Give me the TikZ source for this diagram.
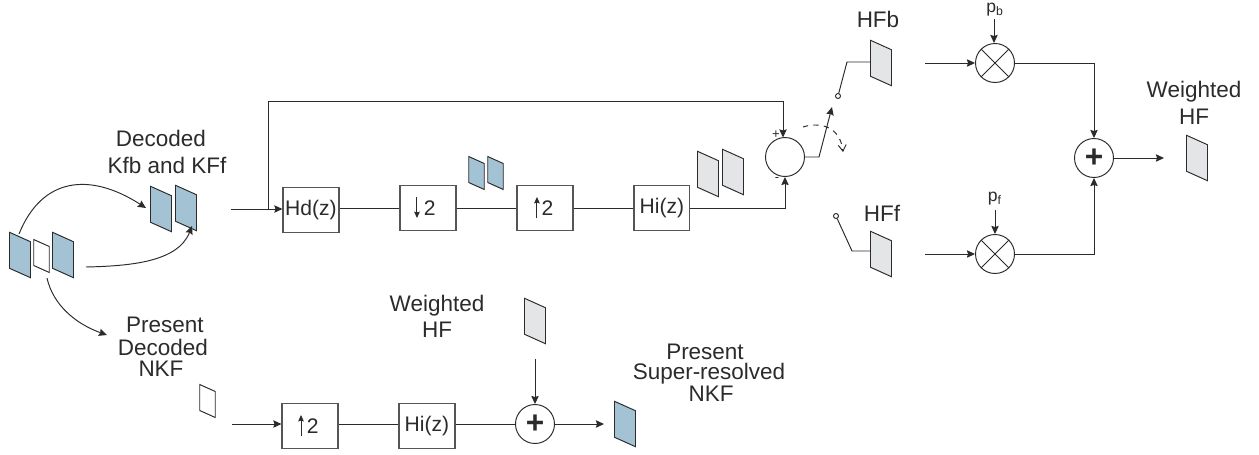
\documentclass[tikz,border=0pt]{standalone}
\usepackage{xcolor}
\usepackage{fontspec}
\setmainfont{Liberation Sans}
\setsansfont{Liberation Sans}
\definecolor{frameBlue}{HTML}{A3C3D5}
\definecolor{frameGray}{HTML}{E4E5E7}
\definecolor{lineDark}{HTML}{2B2B2B}
\definecolor{boxGray}{HTML}{555555}
\usetikzlibrary{
    arrows.meta,
    positioning
}
\tikzset{
    % Base style for all labels
    label text/.style={
        font=\sffamily\fontsize{12.8}{12.8}\selectfont,
        text=lineDark,
        inner sep=0pt,
    },
    % Filter and sampling blocks
    block/.style={
        rectangle,
        draw=boxGray,
        line width=0.65pt,
        fill=white,
        minimum width=1.12cm,
        minimum height=0.9cm,
        inner sep=0pt,
        font=\sffamily\fontsize{12}{12}\selectfont,
        text=lineDark,
    },
    % Summing and product junctions
    junction/.style={
        circle,
        draw=lineDark,
        line width=0.55pt,
        fill=white,
        minimum size=0.78cm,
        inner sep=0pt,
        font=\sffamily\bfseries\fontsize{18}{18}\selectfont,
        text=lineDark,
    },
    % Slanted frames
    frame/.style={
        rectangle,
        draw=lineDark,
        line width=0.55pt,
        minimum width=0.42cm,
        minimum height=0.72cm,
        inner sep=0pt,
        yslant=-0.45,
        transform shape,
    },
    small frame/.style={
        frame,
        minimum width=0.31cm,
        minimum height=0.52cm,
    },
    % Switch contact
    contact/.style={
        circle,
        draw=lineDark,
        line width=0.55pt,
        fill=white,
        minimum size=0.1cm,
        inner sep=0pt,
    },
    % Connectors
    wire/.style={
        line width=0.55pt,
        draw=lineDark,
    },
    arrow/.style={
        wire,
        -{Stealth[length=4.6pt, width=4.2pt, inset=0.6pt]},
    },
    sample arrow/.style={
        wire,
        -{Stealth[length=3.6pt, width=3.2pt, inset=0.4pt]},
    },
    arrow dashed/.style={
        line width=0.55pt,
        draw=lineDark,
        dashed,
        -{Straight Barb[length=3.5pt, width=4.5pt]},
    },
    small sign/.style={
        font=\sffamily\fontsize{7.5}{7.5}\selectfont,
        text=lineDark,
        inner sep=0pt,
    },
    weight text/.style={
        label text,
        font=\sffamily\fontsize{10}{10}\selectfont,
    },
}
\begin{document}
\begin{tikzpicture}[x=0.02cm, y=-0.02cm, node distance=2.34cm]
    \useasboundingbox (0,0) rectangle (1259,454);

    % decoded frames on the left
    \node (groupa) [frame, fill=frameBlue] at (20,255) {};
    \node (groupb) [small frame, fill=white] at (41.5,256) {};
    \node (groupc) [frame, fill=frameBlue] at (63,255) {};
    \node (kfb) [frame, fill=frameBlue] at (161,209) {};
    \node (kff) [frame, fill=frameBlue] at (186,208) {};
    \node (decoded) [label text] at (161,138) {Decoded};
    \node (kfbkff) [label text] at (167,165) {Kfb and KFf};
    \node (present) [label text] at (165,325) {Present};
    \node (presdec) [label text] at (163,347) {Decoded};
    \node (presnkf) [label text] at (161,369) {NKF};

    % upper filter chain
    \node (hd) [block] at (311,210) {Hd(z)};
    \node (down) [block, right of=hd, yshift=0.04cm] {\hspace*{2pt}2};
    \node (up) [block, right of=down] {\hspace*{3pt}2};
    \node (hi) [block, right of=up] {Hi(z)};
    \draw [sample arrow] ([xshift=-0.22cm, yshift=0.22cm]down.center) -- ([xshift=-0.22cm, yshift=-0.2cm]down.center);
    \draw [sample arrow] ([xshift=-0.16cm, yshift=-0.2cm]up.center) -- ([xshift=-0.16cm, yshift=0.22cm]up.center);
    \node (bandb) [small frame, fill=frameBlue] at (476.5,173) {};
    \node (bandf) [small frame, fill=frameBlue] at (495.5,173) {};
    \node (higha) [frame, fill=frameGray] at (708,174) {};
    \node (highb) [frame, fill=frameGray] at (733,172) {};
    \node (diff) [junction] at (785,157) {};
    \node (plussign) [small sign] at (776,135) {+};
    \node (minussign) [small sign] at (777,179) {-};

    % switch and high frequency frames
    \node (swb) [contact] at (838,96) {};
    \node (swf) [contact] at (836,216) {};
    \node (hfb) [frame, fill=frameGray] at (881,63) {};
    \node (hff) [frame, fill=frameGray] at (881,254) {};
    \node (hfbtext) [label text] at (878,19) {HFb};
    \node (hfftext) [label text] at (882,213) {HFf};

    % weighting
    \node (mulb) [junction] at (995,63) {};
    \node (mulf) [junction] at (995,254) {};
    \draw [wire] (mulb.north west) -- (mulb.south east);
    \draw [wire] (mulb.north east) -- (mulb.south west);
    \draw [wire] (mulf.north west) -- (mulf.south east);
    \draw [wire] (mulf.north east) -- (mulf.south west);
    \node (pb) [weight text] at (995,10) {p\textsubscript{b}};
    \node (pf) [weight text] at (995,199) {p\textsubscript{f}};
    \node (sumhf) [junction] at (1094,158) {+};
    \node (outhf) [frame, fill=frameGray] at (1197,158) {};
    \node (wtext) [label text] at (1194,92) {Weighted};
    \node (wtextb) [label text] at (1194,117) {HF};

    % lower chain
    \node (nkf) [small frame, fill=white] at (207.5,401) {};
    \node (lowup) [block] at (310,426) {\hspace*{3pt}2};
    \node (lowhi) [block, right of=lowup] {Hi(z)};
    \draw [sample arrow] ([xshift=-0.18cm, yshift=-0.2cm]lowup.center) -- ([xshift=-0.18cm, yshift=0.22cm]lowup.center);
    \node (sumlow) [junction] at (535,424) {+};
    \node (inhf) [frame, fill=frameGray] at (535,321) {};
    \node (resnkf) [frame, fill=frameBlue] at (625,424) {};
    \node (lowtext) [label text] at (437,306) {Weighted};
    \node (lowtextb) [label text] at (437,330) {HF};
    \node (srtext) [label text] at (705,351.5) {Present};
    \node (srtextb) [label text] at (709,374) {Super-resolved};
    \node (srtextc) [label text] at (711,394) {NKF};

    % free ends of the connectors
    \coordinate (curvea) at (19,234);
    \coordinate (curveb) at (86,267);
    \coordinate (curvec) at (47,278);
    \coordinate (presentin) at (107,335);
    \coordinate (kfbin) at (146,208);
    \coordinate (kffin) at (192,226);
    \coordinate (hdin) at (231,209);
    \coordinate (tap) at (268,209);
    \coordinate (fbtop) at (783,101);
    \coordinate (fbend) at (783,137.5);
    \coordinate (swbend) at (819,157);
    \coordinate (swout) at (832,107);
    \coordinate (hfbknee) at (847,62);
    \coordinate (hffknee) at (852,251);
    \coordinate (hfbout) at (925,63);
    \coordinate (hffout) at (925,254);
    \coordinate (pbin) at (994,19);
    \coordinate (pbend) at (994,43);
    \coordinate (pfin) at (995,210);
    \coordinate (hfout) at (1164,158);
    \coordinate (lowin) at (232,424);
    \coordinate (wtin) at (535,359);
    \coordinate (srout) at (604,424);
    \coordinate (swarca) at (803,127);
    \coordinate (swarcb) at (843,152);

    \draw [arrow] (curvea) .. controls (42,177) and (90,172) .. (kfbin);
    \draw [arrow] (curveb) .. controls (130,266) and (178,262) .. (kffin);
    \draw [arrow] (curvec) .. controls (53,305) and (76,324) .. (presentin);
    \draw [arrow] (hdin) -- (hdin -| hd.west);
    \draw [arrow] (tap) |- (fbtop) -- (fbend);
    \draw [wire] (down -| hd.east) -- (down);
    \draw [wire] (down) -- (up);
    \draw [wire] (up) -- (hi);
    \draw [arrow] (hi.east) -| (diff.south);
    \draw [arrow] (diff.east) -- (swbend) -- (swout);
    \draw [wire] (swb) -- (hfbknee) -- (hfb.west |- hfbknee);
    \draw [wire] (swf) -- (hffknee) -- (hff.west |- hffknee);
    \draw [arrow dashed] (swarca) .. controls (818,122) and (840,125) .. (swarcb);
    \draw [arrow] (hfbout) -- (mulb);
    \draw [arrow] (hffout) -- (mulf);
    \draw [arrow] (pbin) -- (pbend);
    \draw [arrow] (pfin) -- (mulf);
    \draw [arrow] (mulb) -| (sumhf);
    \draw [arrow] (mulf) -| (sumhf);
    \draw [arrow] (sumhf) -- (hfout);
    \draw [arrow] (lowin) -- (lowup.west |- lowin);
    \draw [wire] (lowup.east |- lowin) -- (lowhi.west |- lowin);
    \draw [wire] (lowhi.east |- lowin) -- (sumlow);
    \draw [arrow] (wtin) -- (sumlow);
    \draw [arrow] (sumlow) -- (srout);
\end{tikzpicture}
\end{document}
